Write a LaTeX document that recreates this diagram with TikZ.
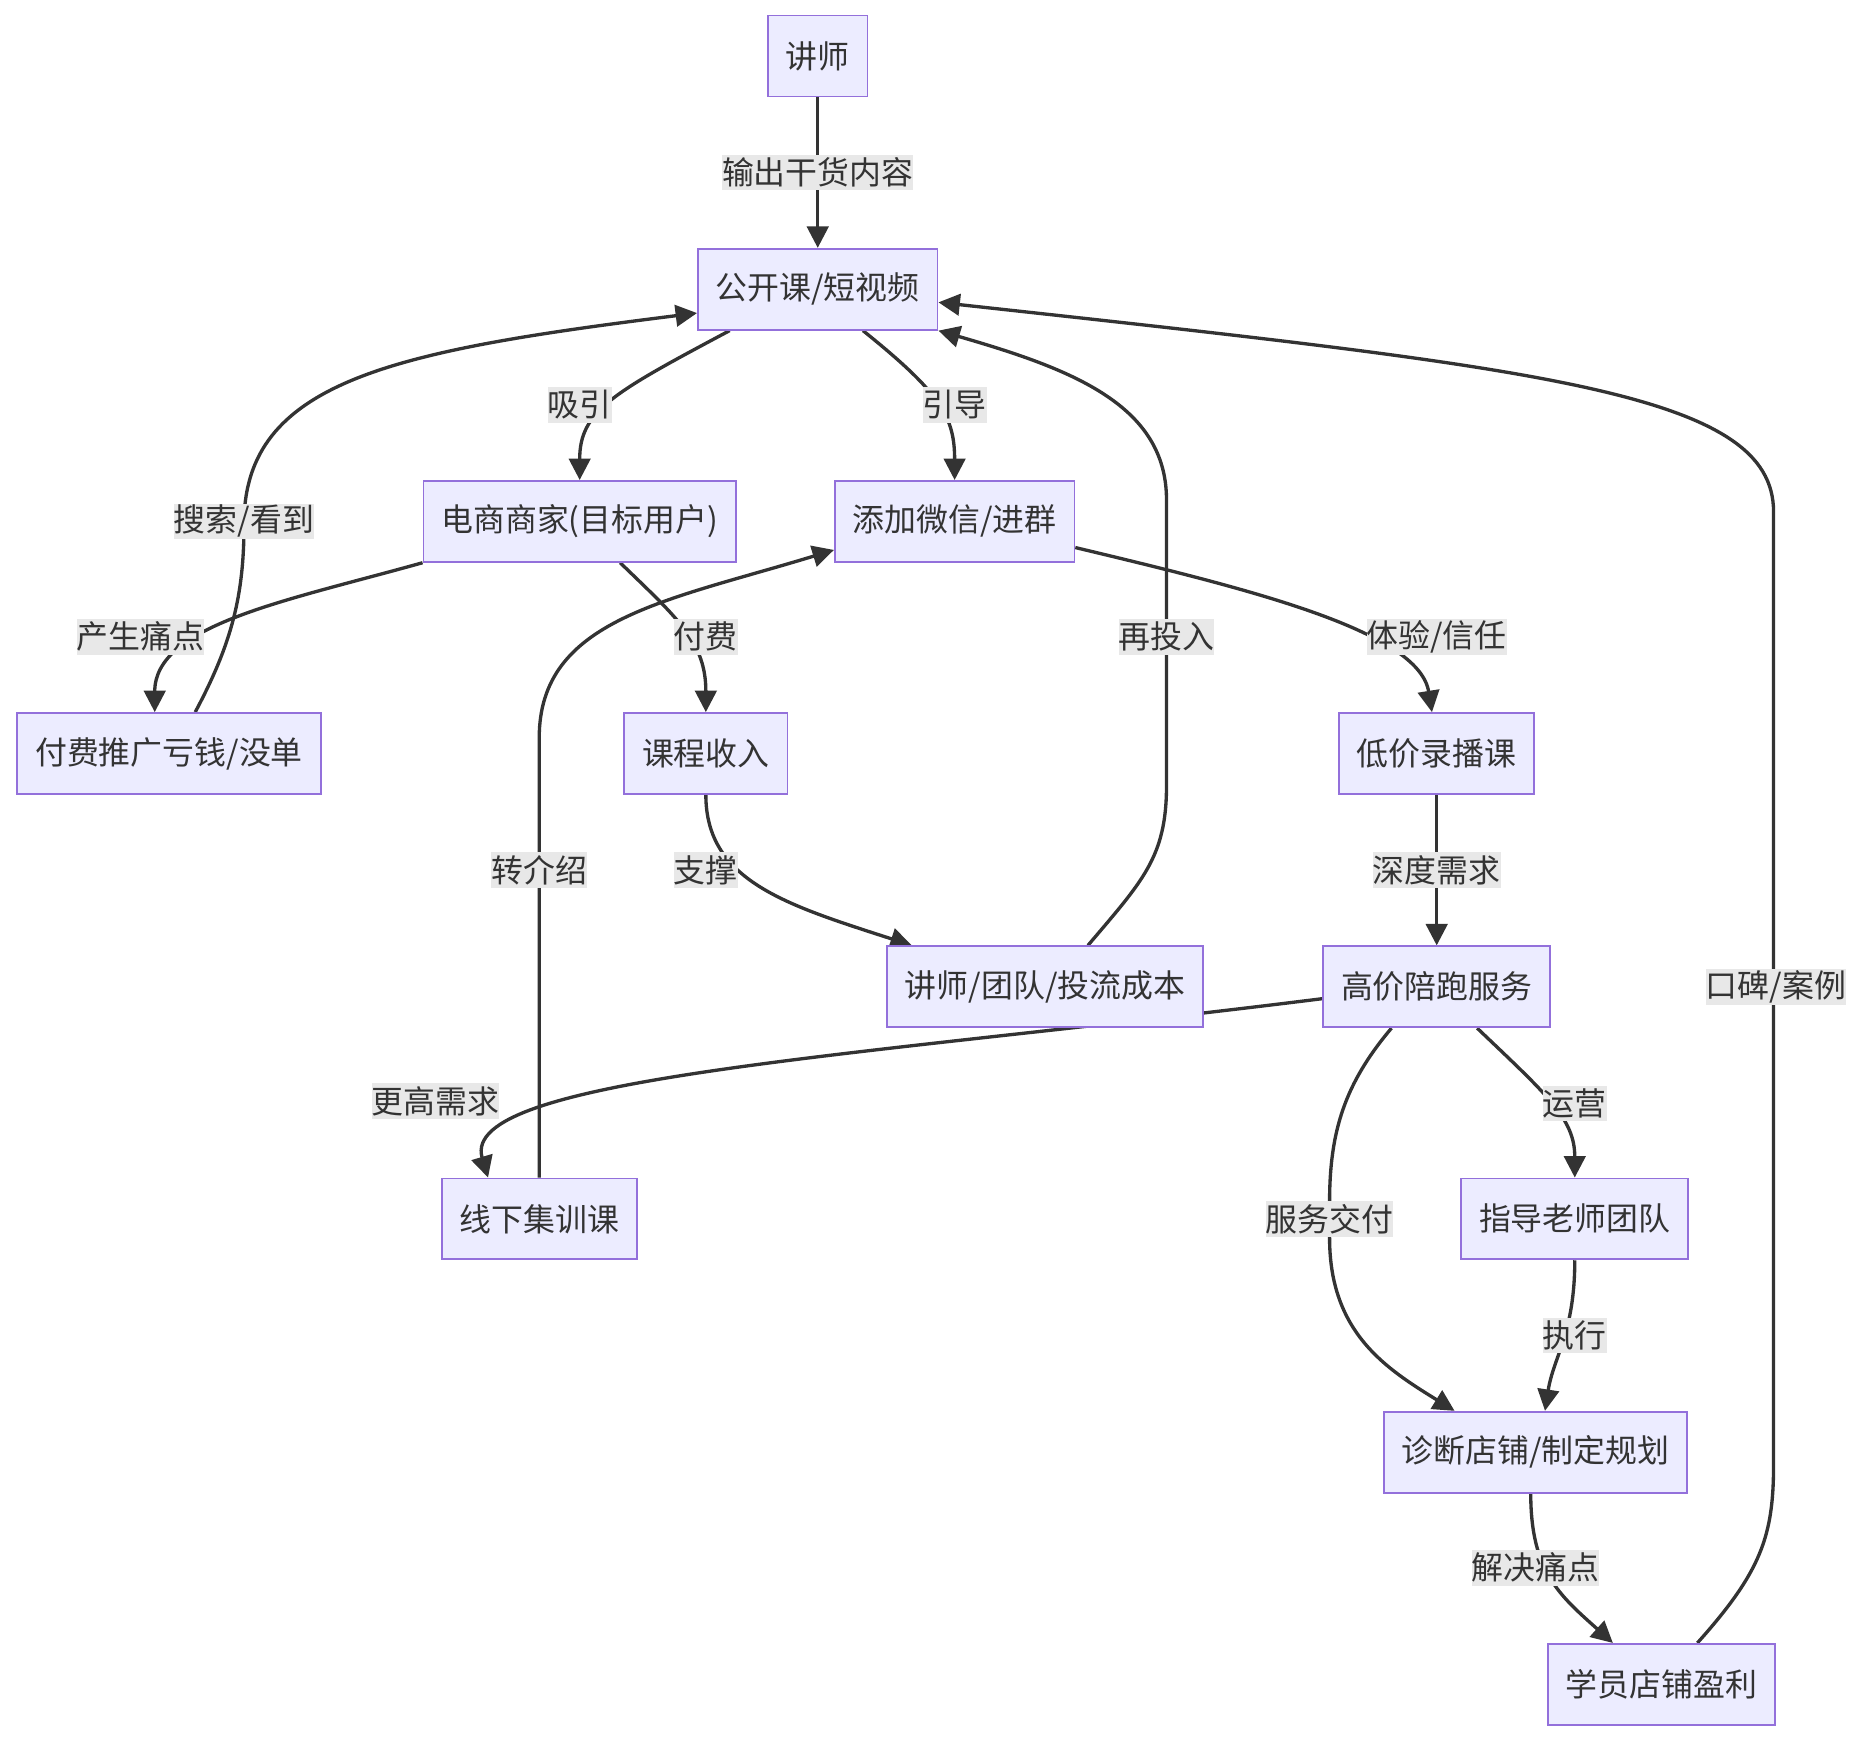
\documentclass[tikz,border=0pt]{standalone}
\usepackage{fontspec}
\setmainfont{Noto Sans CJK SC}
\usetikzlibrary{arrows.meta,backgrounds}
\definecolor{boxfill}{HTML}{ECECFF}
\definecolor{boxline}{HTML}{9370DB}
\definecolor{ink}{HTML}{333333}
\definecolor{lblfill}{HTML}{E8E8E8}

\begin{document}
\begin{tikzpicture}[
x=0.5pt, y=-0.5pt,
every node/.style={font=\fontsize{13.4pt}{16pt}\selectfont, text=ink},
box/.style={rectangle, draw=boxline, fill=boxfill, line width=0.75pt, minimum height=34pt, inner xsep=7.5pt, inner ysep=0pt},
lbl/.style={rectangle, fill=lblfill, inner sep=0pt, minimum height=15pt},
flow/.style={draw=ink, line width=1.4pt, -{Triangle[length=9pt,width=9pt]}}
]
\useasboundingbox (0,0) rectangle (1566,1463);

\node[box] (teacher) at (687,47) {讲师};
\node[box] (open) at (687,243) {公开课/短视频};
\node[box] (merchant) at (487,438) {电商商家(目标用户)};
\node[box] (wechat) at (802,438) {添加微信/进群};
\node[box] (loss) at (142,633) {付费推广亏钱/没单};
\node[box] (income) at (593,633) {课程收入};
\node[box] (lowc) at (1207,633) {低价录播课};
\node[box] (cost) at (878,829) {讲师/团队/投流成本};
\node[box] (highc) at (1207,829) {高价陪跑服务};
\node[box] (offline) at (453,1024) {线下集训课};
\node[box] (tutor) at (1323,1024) {指导老师团队};
\node[box] (diag) at (1290,1220) {诊断店铺/制定规划};
\node[box] (profit) at (1396,1415) {学员店铺盈利};

\node[lbl] (e1) at (687,145) {输出干货内容};
\node[lbl] (e2) at (487,340) {吸引};
\node[lbl] (e3) at (802,340) {引导};
\node[lbl] (e4) at (205,438) {搜索/看到};
\node[lbl] (e5) at (118,535) {产生痛点};
\node[lbl] (e6) at (593,535) {付费};
\node[lbl] (e7) at (980,535) {再投入};
\node[lbl] (e8) at (1207,535) {体验/信任};
\node[lbl] (e9) at (453,731) {转介绍};
\node[lbl] (e10) at (593,731) {支撑};
\node[lbl] (e11) at (1207,731) {深度需求};
\node[lbl] (e12) at (1492,829) {口碑/案例};
\node[lbl] (e13) at (366,925) {更高需求};
\node[lbl] (e14) at (1323,927) {运营};
\node[lbl] (e15) at (1117,1024) {服务交付};
\node[lbl] (e16) at (1323,1122) {执行};
\node[lbl] (e17) at (1290,1317) {解决痛点};

\begin{scope}[on background layer]
\draw[flow] (teacher.south) -- (open.north);
\draw[flow] ([xshift=-37pt]open.south) .. controls (515,330) and (487,345) .. (merchant.north);
\draw[flow] ([xshift=19pt]open.south) .. controls (790,330) and (802,350) .. (wechat.north);
\draw[flow] (merchant.south west) .. controls (240,505) and (130,525) .. ([xshift=-6pt]loss.north);
\draw[flow] ([xshift=11pt]loss.north) .. controls (195,540) and (205,500) .. (205,440)
  .. controls (205,320) and (330,295) .. ([yshift=-10pt]open.west);
\draw[flow] ([xshift=17pt]merchant.south) .. controls (570,520) and (593,540) .. (income.north);
\draw[flow] ([yshift=-11pt]wechat.east) .. controls (1050,495) and (1192,530) .. ([xshift=-2pt]lowc.north);
\draw[flow] (income.south) .. controls (593,740) and (660,760) .. ([xshift=-56pt]cost.north);
\draw[flow] ([xshift=18pt]cost.north) .. controls (960,740) and (980,720) .. (980,660) -- (980,420)
  .. controls (980,340) and (900,310) .. (open.south east);
\draw[flow] (lowc.south) -- (highc.north);
\draw[flow] ([yshift=-5pt]highc.west) .. controls (720,888) and (385,905) .. ([xshift=-21.5pt]offline.north);
\draw[flow] (offline.north) -- (453,620) .. controls (453,520) and (560,505) .. ([yshift=-12pt]wechat.west);
\draw[flow] ([xshift=-19pt]highc.south) .. controls (1130,910) and (1117,950) .. (1117,1010) -- (1117,1040)
  .. controls (1117,1120) and (1165,1150) .. ([xshift=-34pt]diag.north);
\draw[flow] ([xshift=17pt]highc.south) .. controls (1300,920) and (1323,940) .. (tutor.north);
\draw[flow] (tutor.south) .. controls (1323,1120) and (1305,1140) .. ([xshift=4pt]diag.north);
\draw[flow] ([xshift=-2pt]diag.south) .. controls (1286,1320) and (1310,1340) .. ([xshift=-20.5pt]profit.north);
\draw[flow] ([xshift=15pt]profit.north) .. controls (1480,1320) and (1490,1290) .. (1490,1230) -- (1490,430)
  .. controls (1490,330) and (1300,310) .. ([yshift=-5.5pt]open.east);
\end{scope}
\end{tikzpicture}
\end{document}
